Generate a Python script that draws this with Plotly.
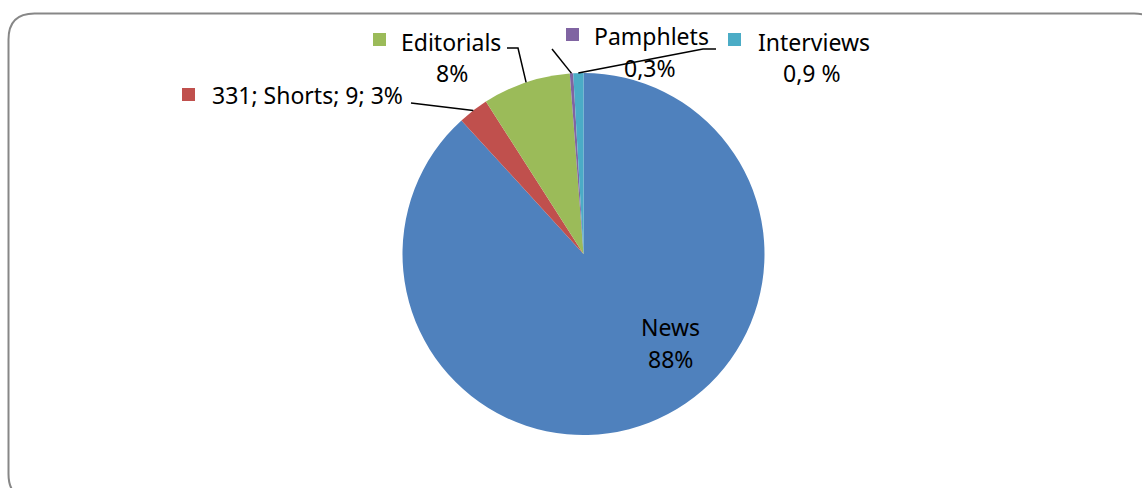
import math
import plotly.graph_objects as go

# Article types and their counts
categories = ["News", "Shorts", "Editorials", "Pamphlets", "Interviews"]
counts = [292, 9, 26, 1, 3]
colors = ["#4F81BD", "#C0504D", "#9BBB59", "#8064A2", "#4BACC6"]

W, H = 1142, 488
CX, CY, R = 583.5, 254.0, 181.0  # pie centre and radius in pixels

fig = go.Figure()
fig.add_trace(go.Pie(
    labels=categories,
    values=counts,
    marker=dict(colors=colors, line=dict(width=0)),
    sort=False,
    direction="clockwise",
    rotation=0,
    textinfo="none",
    hoverinfo="label+value+percent",
    showlegend=False,
    domain=dict(x=[(CX - R) / W, (CX + R) / W], y=[1 - (CY + R) / H, 1 - (CY - R) / H]),
))

# Edge point of each slice at its middle angle (clockwise from 12 o'clock)
total = sum(counts)
edge = {}
acc = 0.0
for name, v in zip(categories, counts):
    mid = (acc + v / 2) / total * 2 * math.pi
    edge[name] = (CX + R * math.sin(mid), CY - R * math.cos(mid))
    acc += v

shapes = []
# rounded chart frame
x0, y0, x1, y1, rr = 8.5, 13.5, 1160, 500, 26
frame = (f"M {x0+rr},{y0} L {x1-rr},{y0} Q {x1},{y0} {x1},{y0+rr} L {x1},{y1-rr} "
         f"Q {x1},{y1} {x1-rr},{y1} L {x0+rr},{y1} Q {x0},{y1} {x0},{y1-rr} "
         f"L {x0},{y0+rr} Q {x0},{y0} {x0+rr},{y0} Z")
shapes.append(dict(type="path", path=frame, xref="x", yref="y",
                   line=dict(color="#878787", width=2), layer="below"))

# leader lines from labels to slices
leaders = {
    "Shorts": [(411, 103)],
    "Editorials": [(507, 48), (518, 48)],
    "Pamphlets": [(552, 49)],
    "Interviews": [(716, 49), (703, 49)],
}
for name, pts in leaders.items():
    pts = pts + [edge[name]]
    p = "M " + " L ".join(f"{x:.1f},{y:.1f}" for x, y in pts)
    shapes.append(dict(type="path", path=p, xref="x", yref="y",
                       line=dict(color="black", width=1.5)))

# legend keys beside the labels
keys = {
    "Shorts": (182, 88),
    "Editorials": (373, 33),
    "Pamphlets": (566, 28),
    "Interviews": (728, 33),
}
for name, (kx, ky) in keys.items():
    c = colors[categories.index(name)]
    shapes.append(dict(type="rect", x0=kx, y0=ky, x1=kx + 13, y1=ky + 13, xref="x", yref="y",
                       fillcolor=c, line=dict(width=0)))

font = dict(family="Noto Sans, Calibri, sans-serif", size=23, color="black")
labels = [
    ("331; Shorts; 9; 3%", 210, 95, "left"),
    ("Editorials", 399, 42, "left"),
    ("8%", 452, 73, "center"),
    ("Pamphlets", 592, 36, "left"),
    ("0,3%", 650, 68, "center"),
    ("Interviews", 756, 42, "left"),
    ("0,9 %", 812, 73, "center"),
    ("News", 670, 327, "center"),
    ("88%", 670, 359, "center"),
]
annotations = [dict(text=t, x=x, y=y, xref="x", yref="y", xanchor=a, yanchor="middle",
                    showarrow=False, font=font) for t, x, y, a in labels]

fig.update_layout(
    width=W, height=H,
    margin=dict(l=0, r=0, t=0, b=0),
    paper_bgcolor="white", plot_bgcolor="white",
    xaxis=dict(range=[0, W], visible=False, fixedrange=True),
    yaxis=dict(range=[H, 0], visible=False, fixedrange=True),
    shapes=shapes,
    annotations=annotations,
)

fig.write_html("out.html")
